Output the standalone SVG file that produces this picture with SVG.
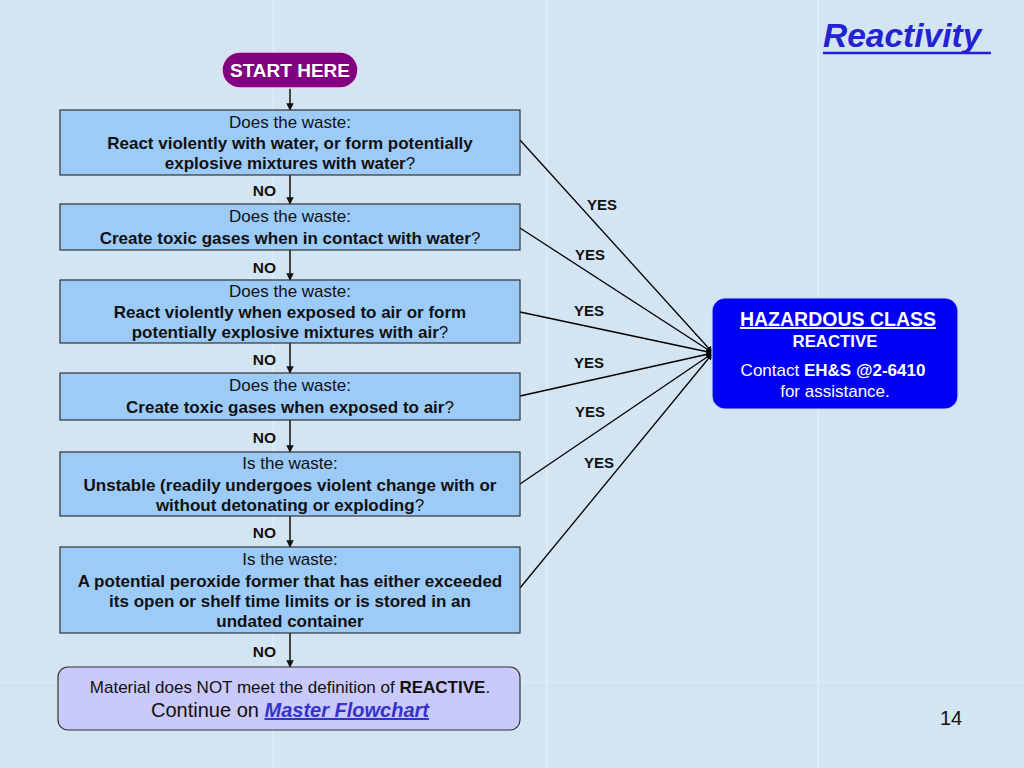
<svg xmlns="http://www.w3.org/2000/svg" width="1024" height="768" viewBox="0 0 1024 768">
<defs>
<marker id="ah" viewBox="0 0 10 10" refX="9" refY="5" markerWidth="6" markerHeight="6" orient="auto" markerUnits="strokeWidth">
<path d="M0,1 L10,5 L0,9 z" fill="#000"/>
</marker>
<marker id="ad" viewBox="0 0 10 10" refX="9" refY="5" markerWidth="5" markerHeight="5" orient="auto">
<path d="M0,0 L10,5 L0,10 z" fill="#111"/>
</marker>
<style>
text{font-family:"Liberation Sans",Arial,sans-serif;fill:#111;text-anchor:middle}
.q{fill:#9dcbf8;stroke:#333;stroke-width:1.2}
.r{font-size:17px}
.b{font-size:17px;font-weight:bold}
.n{font-weight:normal}
.lab{font-size:15px;font-weight:bold}
.no{font-size:15.5px;font-weight:bold;text-anchor:end}
.dn{stroke:#111;stroke-width:1.5;fill:none;marker-end:url(#ad)}
.yes{stroke:#000;stroke-width:1.3;fill:none;marker-end:url(#ah)}
.w{fill:#fff}
.seam{stroke:#e3eef8;stroke-width:1.2}
</style>
</defs>
<rect width="1024" height="768" fill="#d3e5f3"/>
<g id="background-seams">
<line class="seam" x1="273" y1="0" x2="273" y2="768"/>
<line class="seam" x1="547" y1="0" x2="547" y2="768"/>
<line class="seam" x1="818" y1="0" x2="818" y2="768"/>
<line class="seam" x1="0" y1="408" x2="1024" y2="408"/>
<line class="seam" x1="0" y1="682" x2="1024" y2="682"/>
</g>
<g id="title">
<text x="823" y="47" style="font-size:33.5px;font-weight:bold;font-style:italic;fill:#2323d2;text-anchor:start">Reactivity</text>
<line x1="823" y1="53" x2="991" y2="53" stroke="#2323d2" stroke-width="2.4"/>
</g>
<g id="connectors">
<line class="dn" x1="290" y1="88" x2="290" y2="110"/>
<line class="dn" x1="290" y1="175" x2="290" y2="204"/>
<line class="dn" x1="290" y1="250" x2="290" y2="280"/>
<line class="dn" x1="290" y1="343" x2="290" y2="373"/>
<line class="dn" x1="290" y1="420" x2="290" y2="452"/>
<line class="dn" x1="290" y1="516" x2="290" y2="547"/>
<line class="dn" x1="290" y1="633" x2="290" y2="667"/>
<line class="yes" x1="520" y1="140" x2="713" y2="353"/>
<line class="yes" x1="520" y1="228" x2="713" y2="353"/>
<line class="yes" x1="520" y1="312" x2="713" y2="353"/>
<line class="yes" x1="520" y1="396" x2="713" y2="353"/>
<line class="yes" x1="520" y1="484" x2="713" y2="353"/>
<line class="yes" x1="520" y1="588" x2="713" y2="353"/>
<text class="no" x="276" y="196">NO</text>
<text class="no" x="276" y="273">NO</text>
<text class="no" x="276" y="365">NO</text>
<text class="no" x="276" y="443">NO</text>
<text class="no" x="276" y="538">NO</text>
<text class="no" x="276" y="657">NO</text>
<text class="lab" x="602" y="210">YES</text>
<text class="lab" x="590" y="260">YES</text>
<text class="lab" x="589" y="316">YES</text>
<text class="lab" x="589" y="368">YES</text>
<text class="lab" x="590" y="417">YES</text>
<text class="lab" x="599" y="468">YES</text>
</g>
<g id="start">
<rect x="222" y="52" width="136" height="36" rx="18" fill="#800080" stroke="#e8d8ee" stroke-width="1.5"/>
<text x="290" y="77" style="font-size:19px;font-weight:bold;fill:#fff">START HERE</text>
</g>
<g id="q1">
<rect class="q" x="60" y="110" width="460" height="65"/>
<text class="r" x="290" y="128">Does the waste:</text>
<text class="b" x="290" y="149">React violently with water, or form potentially</text>
<text class="b" x="290" y="169">explosive mixtures with water<tspan class="n">?</tspan></text>
</g>
<g id="q2">
<rect class="q" x="60" y="204" width="460" height="46"/>
<text class="r" x="290" y="222">Does the waste:</text>
<text class="b" x="290" y="244">Create toxic gases when in contact with water<tspan class="n">?</tspan></text>
</g>
<g id="q3">
<rect class="q" x="60" y="280" width="460" height="63"/>
<text class="r" x="290" y="297">Does the waste:</text>
<text class="b" x="290" y="318">React violently when exposed to air or form</text>
<text class="b" x="290" y="338">potentially explosive mixtures with air<tspan class="n">?</tspan></text>
</g>
<g id="q4">
<rect class="q" x="60" y="373" width="460" height="47"/>
<text class="r" x="290" y="391">Does the waste:</text>
<text class="b" x="290" y="413">Create toxic gases when exposed to air<tspan class="n">?</tspan></text>
</g>
<g id="q5">
<rect class="q" x="60" y="452" width="460" height="64"/>
<text class="r" x="290" y="469">Is the waste:</text>
<text class="b" x="290" y="491">Unstable (readily undergoes violent change with or</text>
<text class="b" x="290" y="511">without detonating or exploding<tspan class="n">?</tspan></text>
</g>
<g id="q6">
<rect class="q" x="60" y="547" width="460" height="86"/>
<text class="r" x="290" y="565">Is the waste:</text>
<text class="b" x="290" y="587">A potential peroxide former that has either exceeded</text>
<text class="b" x="290" y="607">its open or shelf time limits or is stored in an</text>
<text class="b" x="290" y="627">undated container</text>
</g>
<g id="not-reactive">
<rect x="58" y="667" width="462" height="63" rx="10" fill="#c9c9fb" stroke="#333" stroke-width="1.2"/>
<text x="290" y="693" style="font-size:17px">Material does NOT meet the definition of <tspan font-weight="bold">REACTIVE</tspan>.</text>
<text x="290" y="717" style="font-size:20px">Continue on <tspan style="font-weight:bold;font-style:italic;fill:#3333cc;text-decoration:underline">Master Flowchart</tspan></text>
</g>
<g id="hazardous">
<rect x="712" y="298" width="246" height="111" rx="13" fill="#0000f5" stroke="#c8d8f0" stroke-width="1.2"/>
<text class="w" x="838" y="326" style="font-size:19.5px;font-weight:bold;text-decoration:underline">HAZARDOUS CLASS</text>
<text class="w" x="835" y="347" style="font-size:16.8px;font-weight:bold">REACTIVE</text>
<text class="w" x="833" y="376" style="font-size:17px">Contact <tspan font-weight="bold">EH&amp;S @2-6410</tspan></text>
<text class="w" x="835" y="397" style="font-size:17px">for assistance.</text>
</g>
<text x="951" y="725" style="font-size:20px">14</text>
</svg>
